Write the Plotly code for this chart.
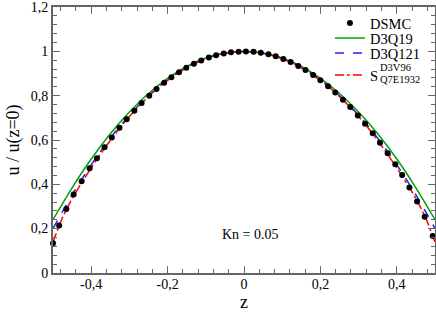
import plotly.graph_objects as go

# DSMC data
dsmc_z = [-0.5, -0.484, -0.465, -0.446, -0.425, -0.404, -0.385, -0.365, -0.346, -0.326,
          -0.307, -0.287, -0.268, -0.248, -0.229, -0.209, -0.190, -0.170, -0.151, -0.131,
          -0.112, -0.092, -0.073, -0.053, -0.034, -0.014, 0.005, 0.025, 0.044, 0.064,
          0.083, 0.103, 0.122, 0.142, 0.161, 0.181, 0.200, 0.220, 0.239, 0.259,
          0.278, 0.298, 0.317, 0.337, 0.356, 0.376, 0.396, 0.414, 0.433, 0.453,
          0.473, 0.494]
dsmc_u = [0.134, 0.214, 0.289, 0.354, 0.414, 0.473, 0.518, 0.567, 0.611, 0.655,
          0.694, 0.732, 0.767, 0.800, 0.830, 0.858, 0.883, 0.906, 0.926, 0.944,
          0.959, 0.973, 0.983, 0.991, 0.996, 0.999, 1.000, 0.998, 0.994, 0.987,
          0.978, 0.966, 0.952, 0.934, 0.916, 0.894, 0.870, 0.843, 0.814, 0.782,
          0.749, 0.711, 0.673, 0.631, 0.588, 0.540, 0.490, 0.442, 0.385, 0.322,
          0.254, 0.167]

# D3Q19 and D3Q121
line_z = [-0.5, -0.45, -0.4, -0.35, -0.3, -0.25, -0.2, -0.15, -0.1, -0.05, 0.0,
          0.05, 0.1, 0.15, 0.2, 0.25, 0.3, 0.35, 0.4, 0.45, 0.5]
d3q19_u = [0.24, 0.384, 0.514, 0.628, 0.726, 0.810, 0.878, 0.932, 0.970, 0.992, 1.0,
           0.992, 0.970, 0.932, 0.878, 0.810, 0.726, 0.628, 0.514, 0.384, 0.24]
d3q121_u = [0.20, 0.352, 0.488, 0.608, 0.712, 0.800, 0.872, 0.928, 0.968, 0.992, 1.0,
            0.992, 0.968, 0.928, 0.872, 0.800, 0.712, 0.608, 0.488, 0.352, 0.20]

# S D3V96 Q7E1932
s_z = [-0.5, -0.49, -0.475, -0.45, -0.4, -0.35, -0.3, -0.25, -0.2, -0.15, -0.1, -0.05, 0.0,
       0.05, 0.1, 0.15, 0.2, 0.25, 0.3, 0.35, 0.4, 0.45, 0.475, 0.49, 0.5]
s_u = [0.14, 0.185, 0.25, 0.335, 0.474, 0.598, 0.706, 0.796, 0.869, 0.926, 0.967, 0.992, 1.0,
       0.992, 0.967, 0.926, 0.869, 0.796, 0.706, 0.598, 0.474, 0.335, 0.25, 0.185, 0.14]

x_tickvals = [-0.4, -0.2, 0, 0.2, 0.4]
x_ticktext = ["-0,4", "-0,2", "0", "0,2", "0,4"]
y_tickvals = [0, 0.2, 0.4, 0.6, 0.8, 1.0, 1.2]
y_ticktext = ["0", "0,2", "0,4", "0,6", "0,8", "1", "1,2"]

FONT = "Liberation Serif"
AX = "#666666"

fig = go.Figure()
fig.add_trace(go.Scatter(x=line_z, y=d3q19_u, mode="lines", name="D3Q19", legend="legend2",
                         line=dict(color="#00a000", width=1.5, shape="spline")))
fig.add_trace(go.Scatter(x=line_z, y=d3q121_u, mode="lines", name="D3Q121", legend="legend3",
                         line=dict(color="#2020ff", width=1.5, dash="dash", shape="spline")))
fig.add_trace(go.Scatter(x=s_z, y=s_u, mode="lines", name="S", legend="legend4",
                         line=dict(color="#ff0000", width=1.5, dash="dashdot", shape="spline")))
fig.add_trace(go.Scatter(x=dsmc_z, y=dsmc_u, mode="markers", name="DSMC", legend="legend",
                         cliponaxis=False, marker=dict(color="black", size=6)))

axis_common = dict(showline=True, linecolor=AX, linewidth=2, mirror="ticks",
                   ticks="inside", ticklen=7, tickcolor=AX, tickwidth=1,
                   showgrid=False, zeroline=False, automargin=False,
                   tickfont=dict(family=FONT, size=14, color="black"))

fig.update_xaxes(range=[-0.5, 0.5], tickmode="array", tickvals=x_tickvals, ticktext=x_ticktext,
                 minor=dict(tickmode="linear", tick0=0, dtick=0.04, ticks="inside", ticklen=4,
                            tickcolor=AX),
                 ticklabelstandoff=-3,
                 title=dict(text="z", font=dict(family=FONT, size=18, color="black"), standoff=14),
                 **axis_common)
fig.update_yaxes(range=[-0.0005, 1.2005], tickmode="array", tickvals=y_tickvals, ticktext=y_ticktext,
                 minor=dict(tickmode="linear", tick0=0, dtick=0.04, ticks="inside", ticklen=4,
                            tickcolor=AX),
                 title=dict(text="u / u(z=0)", font=dict(family=FONT, size=18, color="black"), standoff=6),
                 **axis_common)

fig.add_annotation(x=0.018, y=0.172, xref="x", yref="y", text="Kn = 0.05", showarrow=False,
                   font=dict(family=FONT, size=14, color="black"))
# super/subscript of the S legend entry, stacked
fig.add_annotation(x=0.851, y=0.774, xref="paper", yref="paper", text="D3V96", showarrow=False,
                   xanchor="left", yanchor="middle", font=dict(family=FONT, size=10.5, color="black"))
fig.add_annotation(x=0.851, y=0.726, xref="paper", yref="paper", text="Q7E1932", showarrow=False,
                   xanchor="left", yanchor="middle", font=dict(family=FONT, size=10.5, color="black"))

leg = dict(x=0.725, xanchor="left", yanchor="middle", bgcolor="rgba(0,0,0,0)",
           font=dict(family=FONT, size=14.5, color="black"))

fig.update_layout(
    width=436, height=312,
    margin=dict(l=53, r=1, t=7, b=39),
    paper_bgcolor="white", plot_bgcolor="white",
    legend=dict(y=0.940, **leg),
    legend2=dict(y=0.883, **leg),
    legend3=dict(y=0.827, **leg),
    legend4=dict(y=0.744, **leg),
    showlegend=True,
)

fig.write_html("out.html", config={"displayModeBar": False},
               post_script="document.body.style.margin='0';")
